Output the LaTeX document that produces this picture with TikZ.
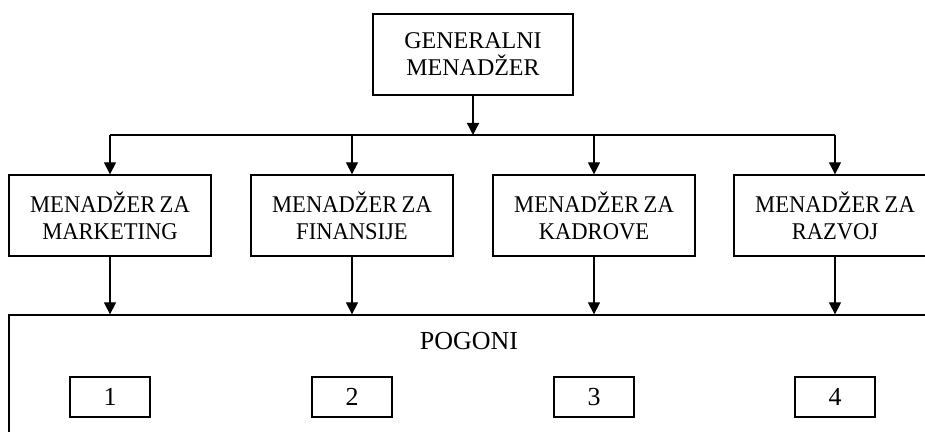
\documentclass[tikz,border=0pt]{standalone}
\usepackage{fontspec}
\setmainfont{Liberation Serif}
\newfontfamily\mgrfont[FakeStretch=0.94,WordSpace=0.75]{Liberation Serif}
\usetikzlibrary{arrows.meta}

\tikzset{
    box/.style={draw, align=center, inner sep=1pt,
        minimum width=101pt, minimum height=40.5pt,
        font=\fontsize{12}{13.5}\selectfont},
    mgr/.style={box, font=\mgrfont\fontsize{12}{13.5}\selectfont},
    unit/.style={draw, minimum width=40pt, minimum height=20pt},
}

\begin{document}
\begin{tikzpicture}[x=0.5pt,y=-0.5pt,line width=0.65pt,
        font=\fontsize{13}{15}\selectfont,
        >={Triangle[length=6pt,width=6pt]}]
    \useasboundingbox (0,0) rectangle (925,432);
    \clip (0,0) rectangle (925,432);
    \node[box,minimum width=100pt] (gm) at (473,54.5) {GENERALNI\\MENADŽER};
    \foreach \i/\x/\t in {1/110/MARKETING,2/352/FINANSIJE,3/594/KADROVE,4/835/RAZVOJ} {
        \node[mgr] (m\i) at (\x,215.5) {MENADŽER ZA\\\t};
    }
    \node[draw,minimum width=466pt,minimum height=65pt] (pogoni) at (475,380) {};
    \node (pogonititle) at (469,341) {POGONI};
    \foreach \i/\x in {1/110,2/352,3/594,4/835} {
        \node[unit] (p\i) at (\x,397) {\i};
    }
    \coordinate (bus) at (473,135);
    \draw[->] (gm) -- (bus);
    \draw (m1 |- bus) -- (m4 |- bus);
    \foreach \i in {1,...,4} {
        \draw[->] (m\i |- bus) -- (m\i);
        \draw[->] (m\i) -- (m\i |- pogoni.north);
    }
\end{tikzpicture}
\end{document}
